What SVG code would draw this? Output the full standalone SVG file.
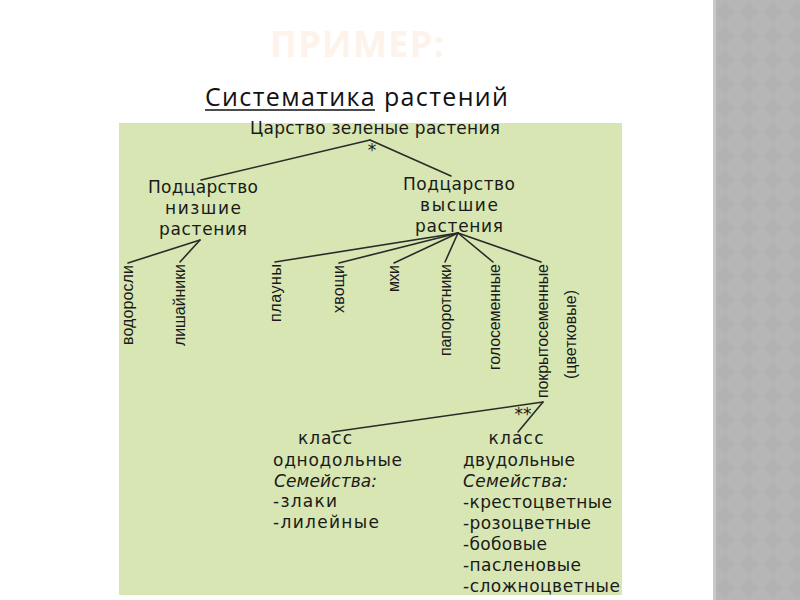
<svg xmlns="http://www.w3.org/2000/svg" width="800" height="600" viewBox="0 0 800 600">
  <defs>
    <pattern id="dia" x="713" y="0" width="24" height="24" patternUnits="userSpaceOnUse">
      <rect width="24" height="24" fill="#b6b6b6"/>
      <path d="M12 2 L22 12 L12 22 L2 12 Z" fill="#b2b2b2"/>
    </pattern>
  </defs>
  <style>
    .t { font-family: "DejaVu Sans", "Liberation Sans", sans-serif; font-size: 17px; fill: #1a1a1a; }
    .i { font-style: italic; }
    .v { font-family: "Liberation Sans", Arial, sans-serif; font-size: 16px; fill: #1a1a1a; }
    .ln { stroke: #2a2a2a; stroke-width: 1.6; fill: none; stroke-linecap: round; }
  </style>
  <rect width="800" height="600" fill="#ffffff"/>
  <rect x="713" y="0" width="87" height="600" fill="url(#dia)"/>
  <rect x="713" y="0" width="3" height="600" fill="#c8c8c8"/>

  <text x="357" y="57" text-anchor="middle" font-family="'Open Sans', 'Liberation Sans', sans-serif" font-size="36" font-weight="bold" fill="#fdf3eb" textLength="174">ПРИМЕР:</text>
  <text x="205" y="106" font-family="'Open Sans', 'Noto Sans', sans-serif" font-size="25" fill="#111" textLength="303">Систематика растений</text>
  <line x1="205" y1="110" x2="375" y2="110" stroke="#111" stroke-width="1.5"/>

  <rect x="119" y="123" width="503" height="472" fill="#d7e6b3"/>

  <g id="connectors">
    <line class="ln" x1="370" y1="140" x2="201" y2="180"/>
    <line class="ln" x1="370" y1="140" x2="451" y2="176"/>
    <line class="ln" x1="200" y1="240" x2="128" y2="263"/>
    <line class="ln" x1="200" y1="240" x2="180" y2="262"/>
    <line class="ln" x1="458" y1="233" x2="275" y2="262"/>
    <line class="ln" x1="458" y1="233" x2="339" y2="263"/>
    <line class="ln" x1="458" y1="233" x2="394" y2="263"/>
    <line class="ln" x1="458" y1="233" x2="445" y2="262"/>
    <line class="ln" x1="458" y1="233" x2="493" y2="262"/>
    <line class="ln" x1="458" y1="233" x2="541" y2="262"/>
    <line class="ln" x1="543" y1="402" x2="332" y2="432"/>
    <line class="ln" x1="543" y1="402" x2="518" y2="432"/>
  </g>

  <g id="root">
    <text class="t" x="375" y="134" text-anchor="middle" textLength="250">Царство зеленые растения</text>
    <text class="t" x="372" y="156" text-anchor="middle" font-size="13">*</text>
  </g>
  <g id="lower">
    <text class="t" x="203" y="193" text-anchor="middle" textLength="110">Подцарство</text>
    <text class="t" x="203" y="214" text-anchor="middle" textLength="76">низшие</text>
    <text class="t" x="203" y="235" text-anchor="middle" textLength="88">растения</text>
  </g>
  <g id="higher">
    <text class="t" x="459" y="190" text-anchor="middle" textLength="112">Подцарство</text>
    <text class="t" x="459" y="211" text-anchor="middle" textLength="78">высшие</text>
    <text class="t" x="459" y="232" text-anchor="middle" textLength="88">растения</text>
  </g>

  <g id="vodorosli"><text class="v" transform="translate(133,265) rotate(-90)" text-anchor="end" textLength="80">водоросли</text></g>
  <g id="lishayniki"><text class="v" transform="translate(185,264) rotate(-90)" text-anchor="end" textLength="82">лишайники</text></g>
  <g id="plauny"><text class="v" transform="translate(281,264) rotate(-90)" text-anchor="end" textLength="58">плауны</text></g>
  <g id="hvoshchi"><text class="v" transform="translate(344,265) rotate(-90)" text-anchor="end" textLength="48">хвощи</text></g>
  <g id="mhi"><text class="v" transform="translate(399,265) rotate(-90)" text-anchor="end" textLength="27">мхи</text></g>
  <g id="paporotniki"><text class="v" transform="translate(451,264) rotate(-90)" text-anchor="end" textLength="92">папоротники</text></g>
  <g id="golosemennye"><text class="v" transform="translate(500,264) rotate(-90)" text-anchor="end" textLength="106">голосеменные</text></g>
  <g id="pokrytosemennye">
    <text class="v" transform="translate(548,264) rotate(-90)" text-anchor="end" textLength="134">покрытосеменные</text>
    <text class="v" transform="translate(576,290) rotate(-90)" text-anchor="end" textLength="89">(цветковые)</text>
    <text class="t" x="523" y="420" text-anchor="middle" font-size="14">**</text>
  </g>

  <g id="monocots">
    <text class="t" x="325" y="444" text-anchor="middle" textLength="54">класс</text>
    <text class="t" x="273" y="466" textLength="129">однодольные</text>
    <text class="t i" x="274" y="487" textLength="103">Семейства:</text>
    <text class="t" x="273" y="507" textLength="64">-злаки</text>
    <text class="t" x="273" y="528" textLength="106">-лилейные</text>
  </g>
  <g id="dicots">
    <text class="t" x="516" y="444" text-anchor="middle" textLength="55">класс</text>
    <text class="t" x="463" y="466" textLength="112">двудольные</text>
    <text class="t i" x="463" y="487" textLength="105">Семейства:</text>
    <text class="t" x="463" y="508" textLength="149">-крестоцветные</text>
    <text class="t" x="463" y="529" textLength="128">-розоцветные</text>
    <text class="t" x="463" y="550" textLength="84">-бобовые</text>
    <text class="t" x="463" y="571" textLength="118">-пасленовые</text>
    <text class="t" x="463" y="592" textLength="157">-сложноцветные</text>
  </g>
</svg>
